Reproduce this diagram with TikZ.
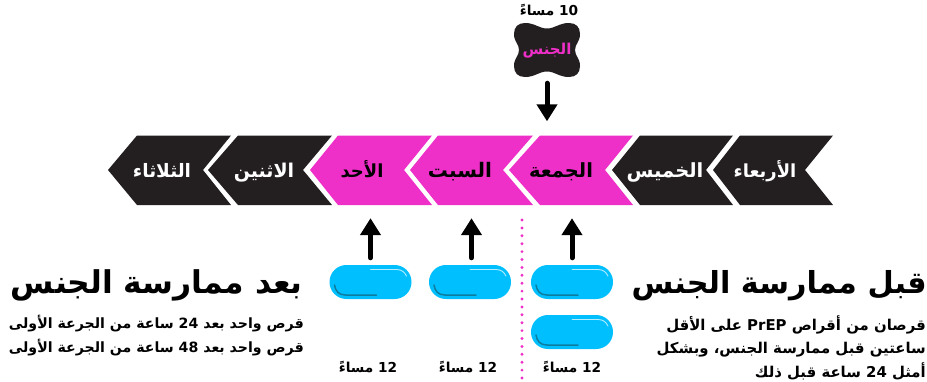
\documentclass[tikz,border=0pt]{standalone}
\usepackage{fontspec}
\usetikzlibrary{arrows.meta}
\TeXXeTstate=1
\newfontfamily\arabicfont[Script=Arabic]{DejaVu Sans}
\definecolor{inkdark}{HTML}{231F20}
\definecolor{hotpink}{HTML}{EE2FC8}
\definecolor{pillblue}{HTML}{00BFFF}
\definecolor{pillshade}{HTML}{0E7C9E}
\newcommand{\arb}[1]{\fontsize{#1}{#1}\arabicfont\bfseries}
\tikzset{
  x=1pt,y=-1pt,
  chev/.style={fill=#1,draw=none},
  daylabel/.style={inner sep=0pt,text height=42pt,text depth=27.5pt,text=#1},
  head/.style={inner sep=0pt,anchor=base east},
  bodytext/.style={inner sep=0pt,anchor=base east},
  timetext/.style={inner sep=0pt,anchor=base},
  pill/.style={fill=pillblue,rounded corners=16.9pt,minimum width=82pt,minimum height=34pt,inner sep=0pt},
  arrowline/.style={line width=5pt,line cap=round,-{Triangle[width=20pt,length=17pt]},black},
  dots/.style={hotpink,line width=3.2pt,line cap=round,dash pattern=on 0pt off 7.9pt}
}
\begin{document}
\begin{tikzpicture}
\useasboundingbox (0,0) rectangle (927,381);
% chevrons
\fill[chev=inkdark] (833,135.5) -- (805,170) -- (833,205) -- (740,205) -- (713,170) -- (740,135.5) -- cycle;
\fill[chev=inkdark] (733,135.5) -- (706,170) -- (733,205) -- (640,205) -- (612,170) -- (640,135.5) -- cycle;
\fill[chev=hotpink] (633,135.5) -- (605,170) -- (633,205) -- (540,205) -- (509,170) -- (540,135.5) -- cycle;
\fill[chev=hotpink] (533,135.5) -- (503,170) -- (533,205) -- (438,205) -- (410,170) -- (438,135.5) -- cycle;
\fill[chev=hotpink] (432,135.5) -- (404,170) -- (432,205) -- (338,205) -- (310,170) -- (338,135.5) -- cycle;
\fill[chev=inkdark] (332,135.5) -- (303,170) -- (332,205) -- (238,205) -- (208,170) -- (238,135.5) -- cycle;
\fill[chev=inkdark] (231,135.5) -- (203,170) -- (231,205) -- (137,205) -- (108,170) -- (137,135.5) -- cycle;
\node[daylabel=white] (wed) at (765,170.25) {\arb{18}\beginR الأربعاء\endR};
\node[daylabel=white] (thu) at (665,170.25) {\arb{19.5}\beginR الخميس\endR};
\node[daylabel=black] (fri) at (561,170.25) {\arb{19.5}\beginR الجمعة\endR};
\node[daylabel=black] (sat) at (460,170.25) {\arb{20}\beginR السبت\endR};
\node[daylabel=black] (sun) at (362,170.25) {\arb{18}\beginR الأحد\endR};
\node[daylabel=white] (mon) at (264,170.25) {\arb{19}\beginR الاثنين\endR};
\node[daylabel=white] (tue) at (162,170.25) {\arb{18.5}\beginR الثلاثاء\endR};
% star
\fill[inkdark] (525,23) .. controls (535,23) and (539,28.5) .. (547,28.5)
  .. controls (555,28.5) and (559,23) .. (569,23)
  .. controls (576,23) and (580,27) .. (580,34)
  .. controls (580,42) and (575,44) .. (575,50)
  .. controls (575,56) and (580,58) .. (580,66)
  .. controls (580,73) and (576,77) .. (569,77)
  .. controls (559,77) and (555,71.5) .. (547,71.5)
  .. controls (539,71.5) and (535,77) .. (525,77)
  .. controls (518,77) and (514,73) .. (514,66)
  .. controls (514,58) and (519,56) .. (519,50)
  .. controls (519,44) and (514,42) .. (514,34)
  .. controls (514,27) and (518,23) .. (525,23) -- cycle;
\node[inner sep=0pt,text height=31pt,text depth=23pt,text=hotpink] (sex) at (547,50) {\arb{15}\beginR الجنس\endR};
\node[timetext] (ten) at (549,15) {\arb{13.7}\beginR\beginL 10\endL{} مساءً\endR};
% pills
\node[pill] (p1) at (572,282) {};
\node[pill] (p2) at (572,332) {};
\node[pill] (p3) at (470,282) {};
\node[pill] (p4) at (370.5,282) {};
\foreach \n in {p1,p2,p3,p4}{
  \draw[white,opacity=.7,line width=.9pt,line cap=round] ([shift={(0,-12.5)}]\n.center) -- ([shift={(26,-12.5)}]\n.center) .. controls ([shift={(31,-12.5)}]\n.center) and ([shift={(34,-10)}]\n.center) .. ([shift={(36,-6)}]\n.center);
  \draw[pillshade,line width=1.5pt,line cap=round] ([shift={(-36,3)}]\n.center) .. controls ([shift={(-35,9)}]\n.center) and ([shift={(-32,13)}]\n.center) .. ([shift={(-25,13)}]\n.center) -- ([shift={(6,13)}]\n.center);
}
% arrows
\draw[arrowline,shorten <=7pt,shorten >=13pt] (p1.north) -- (p1.north |- fri.south);
\draw[arrowline,shorten <=7pt,shorten >=13pt] ([xshift=1.5pt]p3.north) -- ([xshift=1.5pt]p3.north |- sat.south);
\draw[arrowline,shorten <=7pt,shorten >=13pt] (p4.north) -- (p4.north |- sun.south);
\draw[arrowline,shorten <=6pt,shorten >=14pt] (sex.south) -- (sex.south |- fri.north);
% dotted divider
\coordinate (dtop) at (522,220);
\coordinate (dbot) at (522,380);
\draw[dots] (dtop) -- (dbot);
% times
\node[timetext] (t1) at (572,372) {\arb{13.7}\beginR\beginL 12\endL{} مساءً\endR};
\node[timetext] (t2) at (468,372) {\arb{13.7}\beginR\beginL 12\endL{} مساءً\endR};
\node[timetext] (t3) at (368,372) {\arb{13.7}\beginR\beginL 12\endL{} مساءً\endR};
% headings
\node[head] (hr) at (927,293) {\arb{30.3}\beginR قبل ممارسة الجنس\endR};
\node[head] (hl) at (303,293) {\arb{31.4}\beginR بعد ممارسة الجنس\endR};
% body
\node[bodytext] (b1) at (926,330) {\arb{14.9}\beginR قرصان من أقراص \beginL PrEP\endL{} على الأقل\endR};
\node[bodytext] (b2) at (926,353) {\arb{14.9}\beginR ساعتين قبل ممارسة الجنس، وبشكل\endR};
\node[bodytext] (b3) at (926,377) {\arb{14.9}\beginR أمثل \beginL 24\endL{} ساعة قبل ذلك\endR};
\node[bodytext] (l1) at (304,328) {\arb{14.15}\beginR قرص واحد بعد \beginL 24\endL{} ساعة من الجرعة الأولى\endR};
\node[bodytext] (l2) at (304,352) {\arb{14.15}\beginR قرص واحد بعد \beginL 48\endL{} ساعة من الجرعة الأولى\endR};
\end{tikzpicture}
\end{document}
